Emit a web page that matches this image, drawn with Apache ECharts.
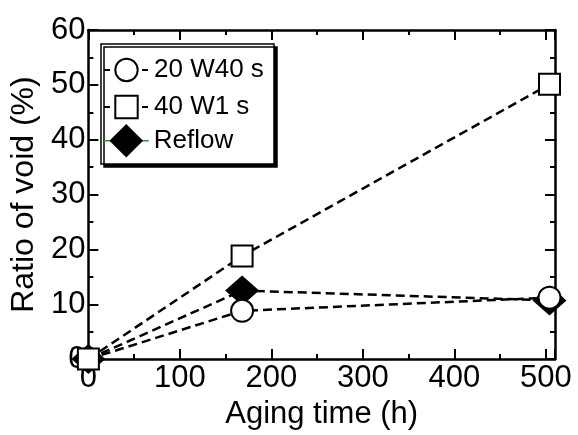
<!DOCTYPE html>
<html>
  <head>
    <meta charset="utf-8">
    <title>Ratio of void vs aging time</title>
  </head>
  <style media="screen">
    html,body,#chart {
      margin:0;
      padding: 0;
      width: 578px;
      height: 435px;
      background: #fff;
    }
  </style>
  <body>
    <div id="chart"></div>

    <script src="https://cdn.jsdelivr.net/npm/echarts@6/dist/echarts.min.js"></script>

    <script type="text/javascript">
      // aging time (h) and ratio of void (%)
      var agingTime = [0, 168, 504]
      var w20s40 = [0, 8.8, 11.2]
      var w40s1 = [0, 18.8, 50.1]
      var reflow = [0, 12.5, 10.7]
      var xTicks = [0, 100, 200, 300, 400, 500]
      var yTicks = [0, 10, 20, 30, 40, 50, 60]

      var FONT = '"Liberation Sans", Arial, sans-serif'

      function pairs(ys) {
        return agingTime.map(function (x, i) { return [x, ys[i]] })
      }

      function axisCommon(showLabel) {
        return {
          axisLine: { show: true, onZero: false, lineStyle: { color: '#000', width: 2.5 } },
          axisTick: { show: true, inside: true, length: 10, lineStyle: { color: '#000', width: 2 } },
          minorTick: { show: true, splitNumber: 2, length: 5, lineStyle: { color: '#000', width: 2 } },
          splitLine: { show: false },
          axisLabel: {
            show: showLabel,
            color: '#000',
            fontSize: 31,
            fontFamily: FONT,
            showMaxLabel: false
          }
        }
      }

      var xBottom = Object.assign(axisCommon(true), {
        type: 'value', position: 'bottom',
        min: xTicks[0], max: 510, interval: 100,
        name: 'Aging time (h)', nameLocation: 'middle', nameGap: 31,
        nameTextStyle: { color: '#000', fontSize: 31, fontFamily: FONT }
      })
      xBottom.axisLabel.margin = 4
      var xTop = Object.assign(axisCommon(false), {
        type: 'value', position: 'top',
        min: xTicks[0], max: 510, interval: 100
      })
      var yLeft = Object.assign(axisCommon(true), {
        type: 'value', position: 'left',
        min: yTicks[0], max: yTicks[yTicks.length - 1], interval: 10,
        name: 'Ratio of void (%)', nameLocation: 'middle', nameGap: 43,
        nameTextStyle: { color: '#000', fontSize: 32, fontFamily: FONT }
      })
      yLeft.axisLabel.margin = 3
      yLeft.axisLabel.showMaxLabel = true
      var yRight = Object.assign(axisCommon(false), {
        type: 'value', position: 'right',
        min: yTicks[0], max: yTicks[yTicks.length - 1], interval: 10
      })

      var dash = { color: '#000', width: 2.5, type: [9, 5] }
      var hollow = { color: '#fff', borderColor: '#000', borderWidth: 2 }
      // legend keys: short dash on each side of the marker
      var keyDash = { color: '#000', width: 2, type: [6, 32] }

      function legendFor(name, top, h, lineStyle) {
        return {
          data: [{ name: name, lineStyle: lineStyle }],
          left: 103, top: top, padding: 0,
          orient: 'vertical',
          itemWidth: 45, itemHeight: h, itemGap: 0,
          selectedMode: false,
          textStyle: { color: '#000', fontSize: 26, fontFamily: FONT }
        }
      }

      var chart = echarts.init(document.getElementById('chart'))
      chart.setOption({
        animation: false,
        backgroundColor: '#fff',
        grid: { left: 85, right: 23, top: 30, bottom: 70 },
        xAxis: [xBottom, xTop],
        yAxis: [yLeft, yRight],
        graphic: [{
          type: 'rect', z: 3,
          shape: { x: 101, y: 44, width: 173, height: 120 },
          style: { fill: '#fff', stroke: '#000', lineWidth: 1.5,
                   shadowColor: '#000', shadowOffsetX: 3, shadowOffsetY: 3, shadowBlur: 0 }
        }],
        legend: [
          legendFor('20 W40 s', 57, 28, keyDash),
          legendFor('40 W1 s', 94, 28, keyDash),
          legendFor('Reflow', 124, 42, { color: '#2a9a2a', width: 1.5, type: 'solid' })
        ],
        series: [{
          name: 'Reflow', type: 'line', clip: false, z: 2,
          data: pairs(reflow),
          symbol: 'diamond', symbolSize: [34, 30],
          lineStyle: dash,
          itemStyle: { color: '#000' }
        }, {
          name: '20 W40 s', type: 'line', clip: false, z: 3,
          data: pairs(w20s40),
          symbol: 'circle', symbolSize: 22,
          lineStyle: dash,
          itemStyle: hollow
        }, {
          name: '40 W1 s', type: 'line', clip: false, z: 4,
          data: pairs(w40s1),
          symbol: 'rect', symbolSize: 21,
          lineStyle: dash,
          itemStyle: hollow
        }]
      })
    </script>
  </body>
</html>
